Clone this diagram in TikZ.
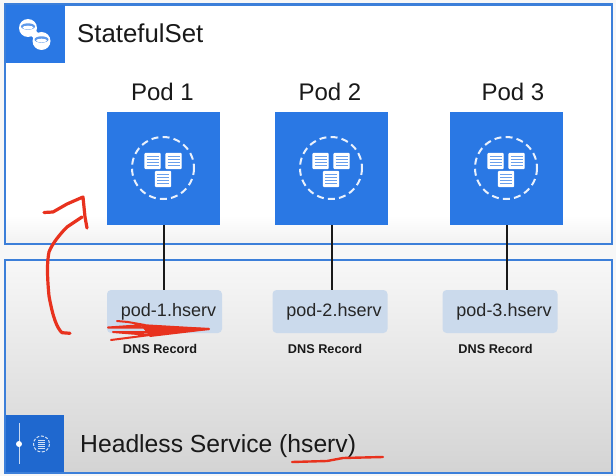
\documentclass[tikz,border=0pt]{standalone}
\usepackage{fontspec}
\setmainfont{Liberation Sans}
\definecolor{gblue}{HTML}{2A78E4}
\definecolor{gblued}{HTML}{1F68CF}
\definecolor{frameb}{HTML}{3C7FD9}
\definecolor{dnsfill}{HTML}{CBDAEC}
\definecolor{scrib}{HTML}{E8321E}
\tikzset{
  podbox/.style={fill=gblue,draw=none,minimum width=113pt,minimum height=113pt,inner sep=0pt},
  dnsbox/.style={fill=dnsfill,draw=none,rounded corners=4pt,minimum width=115pt,minimum height=43pt,inner sep=0pt,font=\fontsize{18}{20}\selectfont,text=black!85},
  podlabel/.style={font=\fontsize{24}{26}\selectfont,text=black!90,inner sep=0pt},
  dnslabel/.style={font=\bfseries\fontsize{12.7}{14}\selectfont,text=black!90,inner sep=0pt},
  titlelabel/.style={anchor=base west,inner sep=0pt,text=black!90},
  link/.style={draw=black!90,line width=2pt},
  redpen/.style={draw=scrib,line width=3.2pt,line cap=round,line join=round},
  sheet/.style={fill=white,draw=white,line width=1.2pt,rounded corners=0.6pt},
}
\newcommand{\sheets}[1]{%
  \begin{scope}[shift={#1}]
    \foreach \dx/\dy in {-10.5/-7,10.5/-7,0/11}{
      \begin{scope}[shift={(\dx,\dy)}]
        \draw[sheet] (-7.5,-7.5) rectangle (7.5,7.5);
        \foreach \ly in {-4.5,-1.5,1.5,4.5}{\draw[gblue!70,line width=1.1pt] (-6,\ly) -- (6,\ly);}
      \end{scope}
    }
    \draw[white!90!gblue,line width=2pt,dash pattern=on 7pt off 4.2pt] (0,0) circle (31);
  \end{scope}}
\begin{document}
\begin{tikzpicture}[x=1pt,y=-1pt]
\useasboundingbox (0,0) rectangle (616,476);
\fill[white!97!black] (0,0) rectangle (616,476);
% top frame
\path[fill=white,draw=frameb,line width=2.5pt] (5,4.5) rectangle (612,244);
\shade[top color=white,bottom color=black!5] (6.5,215) rectangle (610.5,242.5);
% bottom frame
\path[top color=black!3,bottom color=black!17,draw=frameb,line width=2.5pt] (5,260) rectangle (612,473);
% icon tiles
\fill[gblue] (6,5.5) rectangle (65,63);
\fill[gblued] (6,415) rectangle (64,472);
% statefulset icon
\begin{scope}
  \fill[white] (28,28) circle (9);
  \fill[white] (41.5,41) circle (9);
  \draw[white,line width=7pt] (28,28) -- (41.5,41);
  \fill[gblue!75] (28,26.5) ellipse (7 and 3.2);
  \fill[gblue!75] (41.5,39.5) ellipse (7 and 3.2);
  \fill[white] (28,27.5) ellipse (5.5 and 1.8);
  \fill[white] (41.5,40.5) ellipse (5.5 and 1.8);
\end{scope}
% headless icon
\draw[white!75!gblued,line width=1pt] (19,423) -- (19,464);
\fill[white] (19,444) circle (3);
\draw[white!80!gblued,line width=1pt,dash pattern=on 3pt off 1.6pt] (41.5,444) circle (8);
\fill[white!80!gblued] (38,439.5) rectangle (45,448.5);
\foreach \ly in {441.5,443.5,445.5,447.5}{\draw[gblued,line width=.5pt] (38,\ly) -- (45,\ly);}
% pods
\node[podbox] (pod1) at (163.5,168.5) {};
\node[podbox] (pod2) at (331.5,168.5) {};
\node[podbox] (pod3) at (506.5,168.5) {};
\sheets{(163,168)}
\sheets{(331,168)}
\sheets{(506,168)}
% dns boxes
\node[dnsbox] (dns1) at (164.5,311.5) {\hspace*{8pt}pod-1.hserv};
\node[dnsbox] (dns2) at (330,311.5) {\hspace*{8pt}pod-2.hserv};
\node[dnsbox] (dns3) at (500,311.5) {\hspace*{8pt}pod-3.hserv};
% connectors
\draw[link] (pod1.south) -- (pod1.south |- dns1.north);
\draw[link] (pod2.south) -- (pod2.south |- dns2.north);
\draw[link] (pod3.south) -- (pod3.south |- dns3.north);
% labels
\node[titlelabel,font=\fontsize{25.8}{28}\selectfont] (t1) at (77,43) {StatefulSet};
\node[titlelabel,font=\fontsize{24.7}{27}\selectfont] (t2) at (80,452) {Headless Service (hserv)};
\node[podlabel] (l1) at (162.5,92) {Pod 1};
\node[podlabel] (l2) at (330,92) {Pod 2};
\node[podlabel] (l3) at (513,92) {Pod 3};
\node[dnslabel] (r1) at (160,349) {DNS Record};
\node[dnslabel] (r2) at (325,349) {DNS Record};
\node[dnslabel] (r3) at (495.5,349) {DNS Record};
% red ink
\draw[redpen] (70,333.3) -- (62,332.7) .. controls (57,328) and (53,318) .. (49,296) .. controls (47,275) and (47,262) .. (49,252) .. controls (52,244) and (60,234) .. (67,227) -- (82,217);
\draw[redpen] (44,212.5) -- (53,212) -- (67,204) -- (83,197) -- (85,217) -- (87,228);
\draw[redpen,line width=2pt] (117,321) -- (128,322) -- (145,325) -- (108,327.5) -- (160,327.5) -- (209,329) -- (160,332) -- (113,332) -- (150,335) -- (111,340);
\fill[scrib] (140,324) -- (209,328) -- (209,330) -- (150,337) -- cycle;
\draw[redpen,line width=2.4pt] (292,462) -- (327,461) -- (343,458) -- (383,457);
\end{tikzpicture}
\end{document}
